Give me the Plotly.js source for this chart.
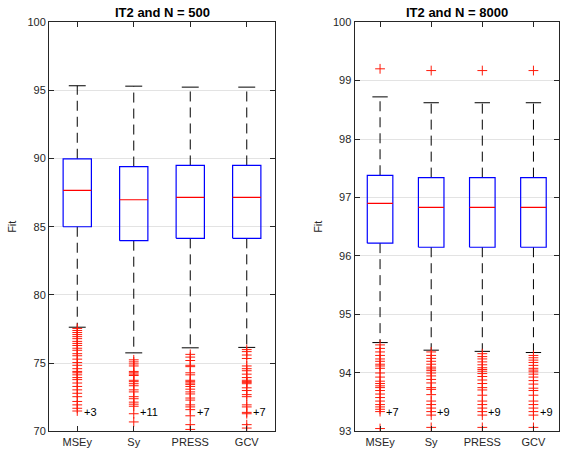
<!DOCTYPE html>
<html>
<head>
<meta charset="utf-8">
<script src="https://cdn.plot.ly/plotly-3.0.1.min.js"></script>
<style>html,body{margin:0;padding:0;background:#fff;}#chart{width:562px;height:453px;}</style>
</head>
<body>
<div id="chart"></div>
<script>
const categories = ['MSEy', 'Sy', 'PRESS', 'GCV'];

// Panel 1: IT2 and N = 500
const upper500 = [95.33, 95.30, 95.23, 95.23];
const q3_500 = [89.98, 89.41, 89.49, 89.49];
const median500 = [87.66, 86.98, 87.15, 87.15];
const q1_500 = [85.00, 83.98, 84.15, 84.15];
const lower500 = [77.64, 75.76, 76.13, 76.16];
const outMSEy500 = [77.55, 77.40, 77.25, 77.10, 76.95, 76.80, 76.60, 76.45, 76.30, 76.10, 75.95, 75.70, 75.55, 75.30, 75.05, 74.85, 74.60, 74.40, 74.30, 74.15, 73.95, 73.80, 73.55, 73.30, 73.05, 72.80, 72.55, 72.20, 71.95, 71.70, 71.50];
const outSy500 = [75.25, 75.10, 74.95, 74.80, 74.40, 74.30, 74.20, 74.10, 73.75, 73.65, 73.50, 73.35, 73.05, 72.90, 72.55, 72.40, 72.15, 72.00, 71.85, 71.30, 70.70];
const outPRESS500 = [75.65, 75.45, 75.20, 74.85, 74.75, 74.30, 74.15, 73.75, 73.65, 73.55, 73.45, 73.30, 73.10, 72.90, 72.75, 72.45, 72.30, 71.95, 71.80, 71.60, 71.15, 70.50, 70.15];
const outGCV500 = [76.00, 75.85, 75.60, 75.35, 74.80, 74.60, 74.45, 74.20, 73.95, 73.75, 73.65, 73.60, 73.50, 73.20, 73.00, 72.70, 72.55, 71.95, 71.80, 71.40, 71.30, 70.50, 70.25];
const hidden500 = ['+3', '+11', '+7', '+7'];

// Panel 2: IT2 and N = 8000
const upper8000 = [98.72, 98.62, 98.62, 98.62];
const q3_8000 = [97.38, 97.34, 97.34, 97.34];
const median8000 = [96.90, 96.83, 96.83, 96.83];
const q1_8000 = [96.22, 96.15, 96.15, 96.15];
const lower8000 = [94.52, 94.39, 94.37, 94.35];
const outMSEy8000 = [99.20, 94.48, 94.42, 94.36, 94.30, 94.24, 94.20, 94.15, 94.12, 94.08, 94.00, 93.93, 93.86, 93.82, 93.78, 93.75, 93.70, 93.64, 93.58, 93.52, 93.46, 93.42, 93.38, 93.34, 93.05];
const outSy8000 = [99.17, 94.36, 94.30, 94.25, 94.20, 94.15, 94.10, 94.07, 94.04, 94.00, 93.95, 93.89, 93.83, 93.75, 93.72, 93.63, 93.52, 93.46, 93.40, 93.34, 93.28, 93.07];
const outPRESS8000 = [99.17, 94.33, 94.28, 94.24, 94.19, 94.14, 94.09, 94.06, 94.03, 93.99, 93.94, 93.88, 93.82, 93.75, 93.71, 93.62, 93.52, 93.46, 93.40, 93.34, 93.28, 93.07];
const outGCV8000 = [99.17, 94.30, 94.26, 94.22, 94.18, 94.13, 94.08, 94.05, 94.02, 93.98, 93.93, 93.87, 93.81, 93.74, 93.70, 93.62, 93.52, 93.46, 93.40, 93.34, 93.28, 93.07];
const hidden8000 = ['+7', '+9', '+9', '+9'];

const BOX_HALF = 0.25, CAP_HALF = 0.15;

function panelTraces(xa, ya, upper, q3, med, q1, lower, outs) {
  const bx = [], by = [], mx = [], my = [], wx = [], wy = [], cx = [], cy = [];
  categories.forEach((c, i) => {
    bx.push(i - BOX_HALF, i + BOX_HALF, i + BOX_HALF, i - BOX_HALF, i - BOX_HALF, null);
    by.push(q1[i], q1[i], q3[i], q3[i], q1[i], null);
    mx.push(i - BOX_HALF, i + BOX_HALF, null);
    my.push(med[i], med[i], null);
    wx.push(i, i, null, i, i, null);
    wy.push(q3[i], upper[i], null, q1[i], lower[i], null);
    cx.push(i - CAP_HALF, i + CAP_HALF, null, i - CAP_HALF, i + CAP_HALF, null);
    cy.push(upper[i], upper[i], null, lower[i], lower[i], null);
  });
  const ox = [], oy = [];
  outs.forEach((arr, i) => arr.forEach(v => { ox.push(i); oy.push(v); }));
  const common = {xaxis: xa, yaxis: ya, mode: 'lines', hoverinfo: 'skip', showlegend: false};
  return [
    Object.assign({x: wx, y: wy, line: {color: '#000', width: 1, dash: '10px,6px'}}, common),
    Object.assign({x: cx, y: cy, line: {color: '#000', width: 1}}, common),
    Object.assign({x: bx, y: by, line: {color: '#0000ff', width: 1.2}}, common),
    Object.assign({x: mx, y: my, line: {color: '#ff0000', width: 1.2}}, common),
    {x: ox, y: oy, xaxis: xa, yaxis: ya, mode: 'markers', type: 'scatter', showlegend: false, hoverinfo: 'y',
     marker: {symbol: 'cross-thin', size: 7, color: '#ff1a0a', line: {color: '#ff1a0a', width: 1}}}
  ];
}

const data = [].concat(
  panelTraces('x', 'y', upper500, q3_500, median500, q1_500, lower500, [outMSEy500, outSy500, outPRESS500, outGCV500]),
  panelTraces('x2', 'y2', upper8000, q3_8000, median8000, q1_8000, lower8000, [outMSEy8000, outSy8000, outPRESS8000, outGCV8000])
);

const font = {family: 'Liberation Sans, Arial, sans-serif', size: 11, color: '#262626'};
function xaxis(anchor, domain) {
  return {domain: domain, anchor: anchor, range: [-0.5, 3.5], tickvals: [0, 1, 2, 3], ticktext: categories,
    ticks: 'inside', ticklen: 5, tickcolor: '#262626', showline: true, linecolor: '#262626', linewidth: 1,
    mirror: 'ticks', showgrid: false, zeroline: false, tickfont: font, automargin: false};
}
function yaxis(anchor, range, dtick) {
  return {domain: [0.0475, 0.9514], anchor: anchor, range: range, dtick: dtick, tick0: 0,
    ticks: 'inside', ticklen: 5, tickcolor: '#262626', showline: true, linecolor: '#262626', linewidth: 1,
    mirror: 'ticks', showgrid: true, gridcolor: '#e3e3e3', gridwidth: 1, zeroline: false, tickfont: font,
    automargin: false, title: {text: 'Fit', font: font, standoff: 8}};
}

const annotations = [
  {text: '<b>IT2 and N = 500</b>', xref: 'x domain', yref: 'paper', x: 0.5, y: 1 - 12.8 / 453, showarrow: false,
   font: {family: 'Liberation Sans, Arial, sans-serif', size: 13, color: '#000'}, xanchor: 'center', yanchor: 'middle'},
  {text: '<b>IT2 and N = 8000</b>', xref: 'x2 domain', yref: 'paper', x: 0.5, y: 1 - 12.8 / 453, showarrow: false,
   font: {family: 'Liberation Sans, Arial, sans-serif', size: 13, color: '#000'}, xanchor: 'center', yanchor: 'middle'}
];
hidden500.forEach((t, i) => annotations.push({text: t, xref: 'x', yref: 'y', x: i + 0.08, y: 71.45, showarrow: false,
  xanchor: 'left', yanchor: 'middle', font: {family: 'Liberation Sans, Arial, sans-serif', size: 11, color: '#000'}}));
hidden8000.forEach((t, i) => annotations.push({text: t, xref: 'x2', yref: 'y2', x: i + 0.08, y: 93.33, showarrow: false,
  xanchor: 'left', yanchor: 'middle', font: {family: 'Liberation Sans, Arial, sans-serif', size: 11, color: '#000'}}));

const layout = {
  width: 562, height: 453, margin: {l: 0, r: 0, t: 0, b: 0}, paper_bgcolor: '#fff', plot_bgcolor: '#fff',
  showlegend: false, font: font,
  xaxis: xaxis('y', [49 / 562, 275 / 562]),
  yaxis: yaxis('x', [70, 100], 5),
  xaxis2: xaxis('y2', [354.5 / 562, 559 / 562]),
  yaxis2: yaxis('x2', [93, 100], 1),
  annotations: annotations
};

Plotly.newPlot('chart', data, layout, {displayModeBar: false, staticPlot: true});
</script>
</body>
</html>
